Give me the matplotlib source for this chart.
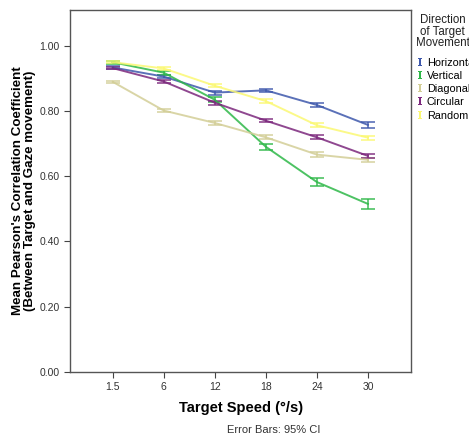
import matplotlib
matplotlib.use('Agg')
import matplotlib.pyplot as plt
from matplotlib.lines import Line2D

plt.rcParams['font.family'] = ['Liberation Sans', 'DejaVu Sans']

# data
speeds = ['1.5', '6', '12', '18', '24', '30']
directions = ['Horizontal', 'Vertical', 'Diagonal', 'Circular', 'Random']
horizontal = [0.933, 0.905, 0.856, 0.863, 0.818, 0.757]
vertical = [0.949, 0.917, 0.834, 0.690, 0.582, 0.515]
diagonal = [0.889, 0.801, 0.763, 0.719, 0.666, 0.650]
circular = [0.931, 0.890, 0.825, 0.770, 0.719, 0.662]
random_ = [0.949, 0.930, 0.877, 0.830, 0.756, 0.718]
ci_horizontal = [0.004, 0.005, 0.006, 0.005, 0.006, 0.008]
ci_vertical = [0.004, 0.006, 0.007, 0.010, 0.012, 0.015]
ci_diagonal = [0.003, 0.004, 0.005, 0.006, 0.007, 0.007]
ci_circular = [0.004, 0.005, 0.006, 0.005, 0.006, 0.007]
ci_random = [0.003, 0.004, 0.005, 0.005, 0.006, 0.006]

colors = ['#3E58AC', '#2EB848', '#D3CE97', '#7C287D', '#FBF873']
series = [horizontal, vertical, diagonal, circular, random_]
cis = [ci_horizontal, ci_vertical, ci_diagonal, ci_circular, ci_random]

fig = plt.figure(figsize=(4.69, 4.41), dpi=100)
ax = fig.add_axes([0.15, 0.1565, 0.727, 0.8215])

x = list(range(len(speeds)))
for vals, ci, col in zip(series, cis, colors):
    ax.errorbar(x, vals, yerr=ci, color=col, lw=1.4, elinewidth=1.2,
                capsize=5, capthick=1.2, alpha=0.85)

ax.set_xlim(-0.83, 5.85)
ax.set_ylim(0, 1.11)
ax.set_xticks(x)
ax.set_xticklabels(speeds)
ax.set_yticks([0, 0.2, 0.4, 0.6, 0.8, 1.0])
ax.set_yticklabels(['0.00', '0.20', '0.40', '0.60', '0.80', '1.00'])
ax.tick_params(labelsize=7.5, colors='#444444', length=4, width=0.8, labelcolor='#333333')
for s in ax.spines.values():
    s.set_color('#555555')
    s.set_linewidth(1.0)

ax.set_xlabel('Target Speed (°/s)', fontsize=10.5, fontweight='bold', labelpad=6)
ax.set_ylabel("Mean Pearson's Correlation Coefficient\n(Between Target and Gaze movement)",
              fontsize=9.6, fontweight='bold', labelpad=3, linespacing=1.0)

fig.text(0.584, 0.018, 'Error Bars: 95% CI', fontsize=8, ha='center', color='#333333')

# legend title placed separately so it stays centred over the entries
fig.text(0.944, 0.968, 'Direction\nof Target\nMovement', fontsize=8.3, ha='center',
         va='top', multialignment='center', linespacing=0.95, color='#222222')

handles = [Line2D([], [], linestyle='None', marker=r'$\mathtt{I}$', markersize=6,
                  color=c, markeredgewidth=0) for c in colors]
leg = fig.legend(handles, directions, loc='upper left', bbox_to_anchor=(0.887, 0.872),
                 frameon=False, fontsize=7.8, handlelength=0.5, handletextpad=0.4,
                 labelspacing=0.3, borderaxespad=0, borderpad=0.1)

fig.savefig('out.png', dpi=100)
